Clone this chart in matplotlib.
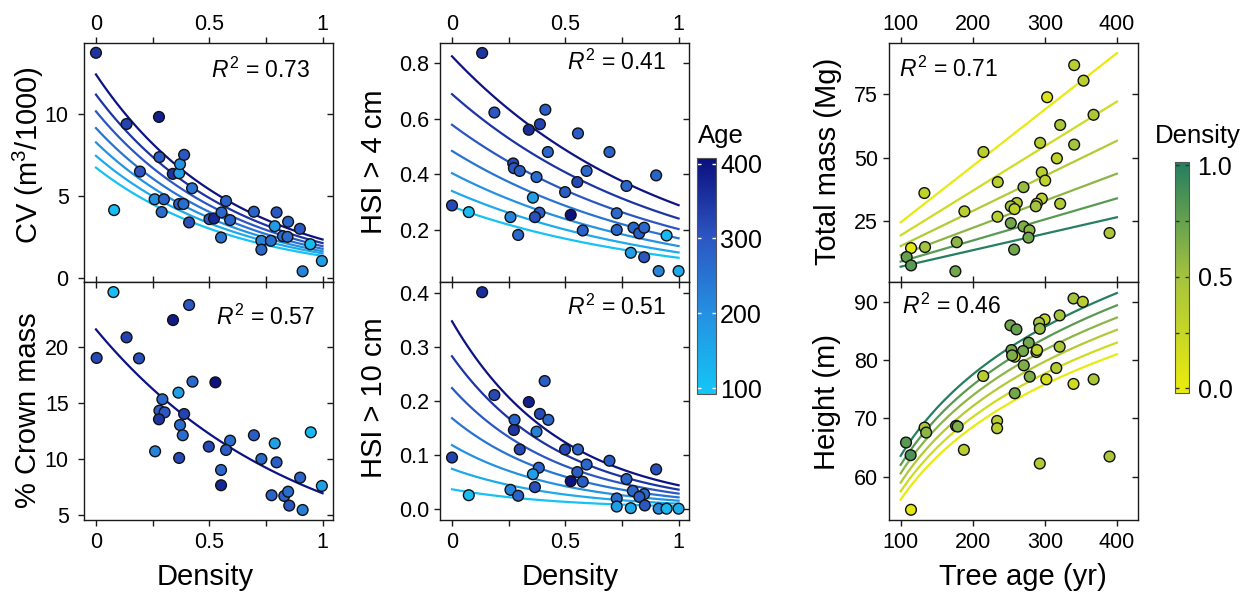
import numpy as np
import matplotlib.pyplot as plt
from matplotlib.colors import LinearSegmentedColormap, Normalize
from matplotlib.cm import ScalarMappable

plt.rcParams['font.family'] = ['Liberation Sans', 'DejaVu Sans']
plt.rcParams['mathtext.fontset'] = 'custom'
plt.rcParams['mathtext.it'] = 'Liberation Sans:italic'
plt.rcParams['mathtext.rm'] = 'Liberation Sans'

# ---- data ----
# CV vs density (colour = age)
cv_dens = [0.0, 0.135, 0.278, 0.194, 0.080, 0.259, 0.280, 0.300, 0.290, 0.339, 0.367, 0.371,
           0.389, 0.367, 0.386, 0.424, 0.411, 0.501, 0.521, 0.554, 0.574, 0.552, 0.592, 0.697,
           0.797, 0.789, 0.730, 0.730, 0.772, 0.825, 0.848, 0.845, 0.900, 0.946, 0.912, 0.997]
cv_val = [13.73, 9.39, 9.82, 6.49, 4.14, 4.80, 7.37, 4.80, 4.02, 6.35, 6.39, 6.94,
          7.51, 4.51, 4.51, 5.47, 3.39, 3.59, 3.63, 4.00, 4.69, 2.47, 3.53, 4.04,
          4.00, 3.16, 2.27, 1.73, 2.27, 2.55, 3.43, 2.51, 3.00, 2.06, 0.41, 1.04]
cv_age = [350, 330, 380, 300, 110, 200, 290, 280, 260, 350, 170, 200,
          300, 290, 260, 250, 310, 300, 370, 270, 280, 250, 280, 280,
          300, 180, 220, 270, 260, 260, 280, 260, 300, 120, 220, 170]

# % crown mass vs density
cr_dens = [0.077, 0.411, 0.340, 0.135, 0.003, 0.190, 0.426, 0.527, 0.364, 0.293, 0.280, 0.303,
           0.278, 0.389, 0.371, 0.383, 0.261, 0.367, 0.498, 0.592, 0.574, 0.552, 0.552, 0.697,
           0.730, 0.789, 0.797, 0.948, 0.775, 0.831, 0.848, 0.853, 0.901, 0.912, 0.997]
cr_val = [24.86, 23.71, 22.37, 20.83, 19.00, 18.96, 16.89, 16.83, 15.91, 15.32, 14.31, 14.16,
          13.54, 14.01, 13.03, 12.12, 10.69, 10.10, 11.11, 11.64, 10.81, 9.03, 7.67, 12.12,
          10.01, 11.40, 9.71, 12.38, 6.78, 6.72, 7.10, 5.86, 8.35, 5.47, 7.61]
cr_age = [110, 300, 390, 330, 320, 310, 270, 400, 170, 270, 290, 300,
          350, 330, 260, 260, 220, 320, 320, 260, 290, 270, 370, 290,
          270, 170, 290, 120, 280, 280, 260, 300, 280, 230, 170]

# HSI > 4 cm vs density
h4_dens = [0.133, 0.187, 0.412, 0.339, 0.388, 0.556, 0.423, 0.695, 0.270, 0.273, 0.299, 0.373,
           0.594, 0.553, 0.499, 0.901, 0.770, 0.357, 0.0, 0.074, 0.258, 0.292, 0.386, 0.366,
           0.524, 0.577, 0.727, 0.727, 0.801, 0.826, 0.848, 0.947, 0.789, 0.848, 0.912, 1.0]
h4_val = [0.836, 0.622, 0.632, 0.560, 0.580, 0.547, 0.480, 0.480, 0.439, 0.422, 0.412, 0.390,
          0.412, 0.372, 0.336, 0.396, 0.358, 0.316, 0.288, 0.264, 0.246, 0.182, 0.262, 0.246,
          0.254, 0.198, 0.260, 0.200, 0.208, 0.188, 0.208, 0.180, 0.118, 0.102, 0.052, 0.052]
h4_age = [350, 300, 290, 360, 330, 290, 270, 280, 320, 300, 290, 260,
          270, 320, 290, 280, 270, 170, 320, 110, 220, 270, 290, 310,
          400, 280, 270, 270, 270, 290, 270, 120, 170, 300, 220, 150]

# HSI > 10 cm vs density
h10_dens = [0.133, 0.187, 0.409, 0.339, 0.388, 0.425, 0.276, 0.273, 0.373, 0.299, 0.499, 0.556,
            0.0, 0.594, 0.695, 0.901, 0.383, 0.357, 0.553, 0.524, 0.577, 0.770, 0.366, 0.258,
            0.292, 0.074, 0.798, 0.848, 0.827, 0.727, 0.727, 0.789, 0.851, 0.912, 0.947, 1.0]
h10_val = [0.402, 0.211, 0.237, 0.198, 0.176, 0.165, 0.165, 0.146, 0.143, 0.110, 0.110, 0.110,
           0.095, 0.082, 0.089, 0.073, 0.076, 0.064, 0.068, 0.051, 0.050, 0.055, 0.040, 0.035,
           0.024, 0.025, 0.033, 0.027, 0.022, 0.019, 0.004, 0.001, 0.006, 0.0, 0.0, 0.0]
h10_age = [360, 320, 290, 380, 320, 270, 280, 350, 230, 320, 320, 280,
           330, 270, 290, 310, 280, 170, 290, 400, 290, 280, 310, 220,
           280, 110, 270, 260, 290, 260, 170, 150, 300, 210, 120, 140]

# total mass vs tree age (colour = density)
ms_age = [340.7, 353.7, 303.2, 367.6, 321.3, 293.5, 340.7, 316.7, 214.8, 295.8, 300.5, 234.7,
          270.4, 132.9, 261.1, 252.8, 257.9, 295.8, 288.9, 287.5, 321.3, 188.4, 234.3, 252.8,
          270.4, 278.7, 277.3, 257.4, 389.8, 177.8, 133.8, 114.4, 108.3, 114.4, 175.9]
ms_val = [86.3, 80.2, 73.7, 66.8, 62.8, 55.8, 55.1, 49.7, 52.2, 44.2, 41.0, 40.4,
          38.4, 36.1, 32.2, 30.9, 29.8, 33.9, 31.9, 30.9, 31.9, 28.9, 26.8, 24.3,
          23.0, 21.5, 18.6, 13.9, 20.4, 16.8, 14.9, 14.5, 11.0, 7.7, 5.4]
ms_dens = [0.35, 0.35, 0.1, 0.45, 0.45, 0.35, 0.5, 0.3, 0.35, 0.35, 0.3, 0.35,
           0.55, 0.3, 0.4, 0.5, 0.3, 0.35, 0.2, 0.5, 0.4, 0.35, 0.35, 0.7,
           0.65, 0.6, 0.7, 0.7, 0.45, 0.6, 0.5, 0.05, 0.75, 0.8, 0.7]

# height vs tree age
ht_age = [339.8, 352.7, 299.8, 292.0, 293.0, 320.6, 252.3, 260.6, 277.7, 269.8, 253.7, 258.3,
          254.6, 288.3, 289.2, 320.6, 270.8, 279.1, 214.5, 315.9, 302.1, 339.8, 367.7, 258.3,
          133.2, 135.4, 176.8, 179.1, 233.8, 233.8, 187.7, 107.4, 113.8, 293.0, 389.8, 114.3]
ht_val = [90.57, 90.00, 86.98, 86.41, 85.38, 87.67, 85.96, 85.27, 82.99, 81.56, 81.73, 80.59,
          80.82, 81.39, 81.73, 82.30, 79.11, 77.17, 77.28, 78.65, 76.71, 75.92, 76.71, 74.32,
          68.44, 67.59, 68.73, 68.61, 69.58, 68.33, 64.62, 65.88, 63.71, 62.28, 63.48, 54.35]
ht_dens = [0.5, 0.35, 0.3, 0.5, 0.55, 0.5, 0.7, 0.75, 0.7, 0.7, 0.7, 0.2,
           0.65, 0.5, 0.3, 0.45, 0.65, 0.65, 0.35, 0.4, 0.15, 0.2, 0.45, 0.7,
           0.45, 0.6, 0.75, 0.65, 0.35, 0.35, 0.35, 0.8, 0.85, 0.4, 0.45, 0.05]

# fitted curves: value at both ends
fit_ages = [100, 150, 200, 250, 300, 350, 400]
cv_fit_start = [6.73, 7.45, 8.27, 9.14, 10.16, 11.18, 12.41]
cv_fit_end = [1.35, 1.50, 1.63, 1.78, 1.94, 2.13, 2.35]
h4_fit_start = [0.284, 0.340, 0.404, 0.484, 0.578, 0.688, 0.824]
h4_fit_end = [0.100, 0.119, 0.142, 0.170, 0.203, 0.241, 0.289]
h10_fit_start = [0.036, 0.074, 0.118, 0.168, 0.224, 0.283, 0.348]
h10_fit_end = [0.0045, 0.0093, 0.0148, 0.021, 0.028, 0.0354, 0.0435]
cr_fit = [21.54, 6.96]

fit_dens = [0.0, 0.2, 0.4, 0.6, 0.8, 1.0]
ms_fit_start = [24.6, 19.5, 15.3, 11.8, 9.2, 7.2]
ms_fit_end = [91.0, 72.0, 56.6, 43.7, 34.0, 26.6]
ht_fit_start = [56.1, 57.5, 59.0, 60.6, 62.05, 63.6]
ht_fit_end = [81.0, 83.0, 85.2, 87.3, 89.4, 91.5]

r2_text = ['0.73', '0.57', '0.41', '0.51', '0.71', '0.46']

# ---- colours ----
age_cmap = LinearSegmentedColormap.from_list('age', ['#14c6f6', '#2492e2', '#2c56c2', '#0b0f7e'])
dens_cmap = LinearSegmentedColormap.from_list('dens', ['#ecec0c', '#a5c33e', '#237d60'])
age_norm = Normalize(92, 407)
dens_norm = Normalize(-0.022, 1.015)

fig = plt.figure(figsize=(12.44, 5.94), dpi=100)

TS = 15.5      # tick labels
LS = 21        # axis labels
INK = '#1a1a1a'


def frame(ax, xticks, xlabels, yticks, ylabels, top, ypad):
    for s in ax.spines.values():
        s.set_linewidth(1.0)
        s.set_color(INK)
    ax.set_yticks(yticks, labels=ylabels)
    ax.tick_params(axis='y', direction='out', length=4.5, width=1, pad=ypad,
                   labelsize=TS, color=INK)
    ry = ax.secondary_yaxis('right')
    ry.set_yticks(yticks)
    ry.tick_params(direction='in', length=4.5, width=1, labelright=False, color=INK)
    for s in ry.spines.values():
        s.set_visible(False)
    ax.set_xticks(xticks, labels=xlabels)
    tx = ax.secondary_xaxis('top')
    tx.set_xticks(xticks, labels=xlabels)
    for s in tx.spines.values():
        s.set_visible(False)
    if top:
        tx.tick_params(direction='out', length=4.5, width=1, pad=1.5, labelsize=TS, color=INK)
        ax.tick_params(axis='x', direction='in', length=4.5, width=1, labelbottom=False, color=INK)
    else:
        tx.tick_params(direction='in', length=4.5, width=1, labeltop=False, color=INK)
        ax.tick_params(axis='x', direction='out', length=4.5, width=1, pad=4,
                       labelsize=TS, color=INK)


def labels(ax, ylab, ypos, xlab=None, xpos=None):
    ax.set_ylabel(ylab, fontsize=LS, va='center')
    ax.yaxis.set_label_coords(*ypos)
    if xlab:
        ax.set_xlabel(xlab, fontsize=LS, va='center')
        ax.xaxis.set_label_coords(*xpos)


def r2(ax, x, y, val, ha):
    ax.text(x, y, r'$R^{\mathrm{2}}$ = ' + val, transform=ax.transAxes,
            ha=ha, va='center', fontsize=16.5)


def dots(ax, x, y, c, cmap, norm):
    ax.scatter(x, y, c=c, cmap=cmap, norm=norm, s=60, edgecolors='#111111',
               linewidths=1.0, zorder=3, clip_on=False)


dens_ticks = [0, 0.25, 0.5, 0.75, 1]
dens_labels = ['0', '', '0.5', '', '1']
age_ticks = [100, 200, 300, 400]
age_labels = ['100', '200', '300', '400']
xd = np.linspace(0, 1, 60)
dlim = (-0.053, 1.044)
alim = (83.75, 428.6)

W = 0.1998
H_TOP = 0.4024
H_BOT = 0.4007
Y_MID = 0.5253
Y_BOT = 0.1246

# ---- left column ----
ax = fig.add_axes([0.0675, Y_MID, W, H_TOP])
for a, s0, s1 in zip(fit_ages, cv_fit_start, cv_fit_end):
    ax.plot(xd, np.geomspace(s0, s1, xd.size), color=age_cmap(age_norm(a)), lw=1.6)
dots(ax, cv_dens, cv_val, cv_age, age_cmap, age_norm)
ax.set_xlim(dlim)
ax.set_ylim(-0.24, 14.33)
frame(ax, dens_ticks, dens_labels, [0, 5, 10], ['0', '5', '10'], True, 6.5)
labels(ax, 'CV (m$^{\\mathrm{3}}$/1000)', (-0.225, 0.53))
r2(ax, 0.91, 0.887, r2_text[0], 'right')

ax = fig.add_axes([0.0675, Y_BOT, W, H_BOT])
ax.plot(xd, np.geomspace(cr_fit[0], cr_fit[1], xd.size), color=age_cmap(age_norm(400)), lw=1.6)
dots(ax, cr_dens, cr_val, cr_age, age_cmap, age_norm)
ax.set_xlim(dlim)
ax.set_ylim(4.58, 25.76)
frame(ax, dens_ticks, dens_labels, [5, 10, 15, 20], ['5', '10', '15', '20'], False, 6.5)
labels(ax, '% Crown mass', (-0.225, 0.46), 'Density', (0.487, -0.238))
r2(ax, 0.93, 0.85, r2_text[1], 'right')

# ---- middle column ----
ax = fig.add_axes([0.3537, Y_MID, W, H_TOP])
for a, s0, s1 in zip(fit_ages, h4_fit_start, h4_fit_end):
    ax.plot(xd, np.geomspace(s0, s1, xd.size), color=age_cmap(age_norm(a)), lw=1.6)
dots(ax, h4_dens, h4_val, h4_age, age_cmap, age_norm)
ax.set_xlim(dlim)
ax.set_ylim(0.013, 0.872)
frame(ax, dens_ticks, dens_labels, [0.2, 0.4, 0.6, 0.8], ['0.2', '0.4', '0.6', '0.8'], True, 3)
labels(ax, 'HSI > 4 cm', (-0.265, 0.504))
r2(ax, 0.911, 0.917, r2_text[2], 'right')

ax = fig.add_axes([0.3537, Y_BOT, W, H_BOT])
for a, s0, s1 in zip(fit_ages, h10_fit_start, h10_fit_end):
    ax.plot(xd, np.geomspace(s0, s1, xd.size), color=age_cmap(age_norm(a)), lw=1.6)
dots(ax, h10_dens, h10_val, h10_age, age_cmap, age_norm)
ax.set_xlim(dlim)
ax.set_ylim(-0.021, 0.421)
frame(ax, dens_ticks, dens_labels, [0.0, 0.1, 0.2, 0.3, 0.4],
      ['0.0', '0.1', '0.2', '0.3', '0.4'], False, 3)
labels(ax, 'HSI > 10 cm', (-0.265, 0.513), 'Density', (0.524, -0.238))
r2(ax, 0.911, 0.892, r2_text[3], 'right')

# ---- right column ----
xa = np.linspace(100, 400, 2)
xg = np.geomspace(100, 400, 60)
ax = fig.add_axes([0.7146, Y_MID, W, H_TOP])
for d, s0, s1 in zip(fit_dens, ms_fit_start, ms_fit_end):
    ax.plot(xa, [s0, s1], color=dens_cmap(dens_norm(d)), lw=1.6)
dots(ax, ms_age, ms_val, ms_dens, dens_cmap, dens_norm)
ax.set_xlim(alim)
ax.set_ylim(1.2, 95)
frame(ax, age_ticks, age_labels, [25, 50, 75], ['25', '50', '75'], True, 3.5)
labels(ax, 'Total mass (Mg)', (-0.244, 0.503))
r2(ax, 0.04, 0.888, r2_text[4], 'left')

ax = fig.add_axes([0.7146, Y_BOT, W, H_BOT])
for d, s0, s1 in zip(fit_dens, ht_fit_start, ht_fit_end):
    ax.plot(xg, np.linspace(s0, s1, xg.size), color=dens_cmap(dens_norm(d)), lw=1.6)
dots(ax, ht_age, ht_val, ht_dens, dens_cmap, dens_norm)
ax.set_xlim(alim)
ax.set_ylim(52.6, 93.4)
frame(ax, age_ticks, age_labels, [60, 70, 80, 90], ['60', '70', '80', '90'], False, 3.5)
labels(ax, 'Height (m)', (-0.251, 0.497), 'Tree age (yr)', (0.54, -0.238))
r2(ax, 0.051, 0.898, r2_text[5], 'left')

# ---- colour bars ----
cax = fig.add_axes([0.5605, 0.3362, 0.0150, 0.3973])
cb = fig.colorbar(ScalarMappable(age_norm, age_cmap), cax=cax, ticks=age_ticks)
cb.outline.set_linewidth(0.8)
cb.outline.set_edgecolor('#555555')
cax.tick_params(which='both', direction='in', left=True, right=True, color='white',
                length=3, width=1, labelsize=18, pad=3, labelcolor='black')
cax.minorticks_off()
fig.text(0.561, 0.759, 'Age', fontsize=18.5, ha='left', va='baseline')

dax = fig.add_axes([0.9445, 0.3379, 0.0115, 0.3899])
db = fig.colorbar(ScalarMappable(dens_norm, dens_cmap), cax=dax, ticks=[0, 0.5, 1.0])
db.outline.set_linewidth(0.8)
db.outline.set_edgecolor('#555555')
dax.set_yticks([0.25, 0.75], minor=True)
dax.set_yticklabels(['0.0', '0.5', '1.0'])
dax.tick_params(which='both', direction='in', left=True, right=True, color='#333333',
                length=3, width=1, labelsize=18, pad=6)
fig.text(0.928, 0.759, 'Density', fontsize=18.5, ha='left', va='baseline')

fig.savefig('out.png', dpi=100)
